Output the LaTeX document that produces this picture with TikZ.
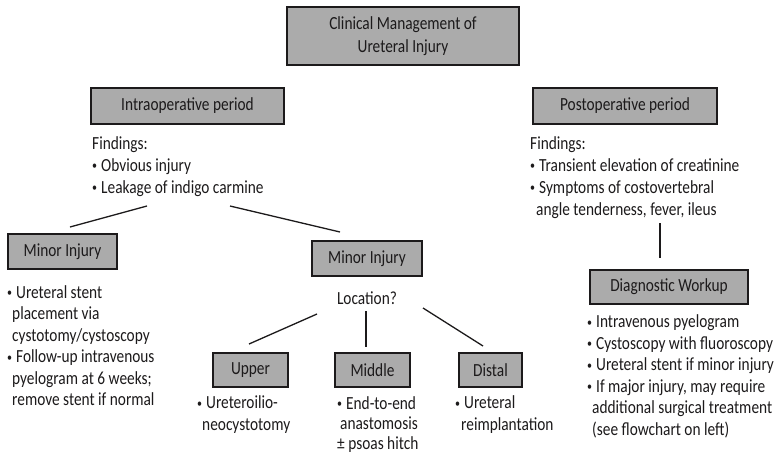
\documentclass[tikz,border=0pt]{standalone}
\usepackage{fontspec}
\setmainfont{Carlito}[FakeStretch=0.83]
\definecolor{boxfill}{HTML}{ABABAB}
\definecolor{ink}{HTML}{1C1A1B}
\newcommand{\fs}{\fontsize{18.5}{21.5}\selectfont}
\newcommand{\bul}{\raisebox{1.2pt}{\fontsize{12}{12}\selectfont •}\hspace{4pt}}
\begin{document}
\begin{tikzpicture}[x=1pt,y=-1pt,
  gbox/.style={draw=ink, line width=1.4pt, fill=boxfill, text=ink, font=\fs,
    inner sep=0pt, align=center},
  tblock/.style={anchor=base west, inner sep=0pt, align=left, text=ink, font=\fs},
  conn/.style={draw=ink, line width=1.3pt}]
\useasboundingbox (0,0) rectangle (775,453);

% boxes
\node[gbox, minimum width=232pt, minimum height=58pt, font=\fontsize{18.5}{23}\selectfont] (title) at (403,36)
  {Clinical Management of\\Ureteral Injury};
\node[gbox, minimum width=193pt, minimum height=36pt] (intra) at (187.5,106) {Intraoperative period};
\node[gbox, minimum width=184pt, minimum height=36pt] (post) at (625,106) {Postoperative period};
\node[gbox, minimum width=109pt, minimum height=35pt] (minorL) at (62.5,251.5) {Minor Injury};
\node[gbox, minimum width=110pt, minimum height=35pt] (minorM) at (367,258.5) {Minor Injury};
\node[gbox, minimum width=158pt, minimum height=34pt] (diag) at (669,287) {Diagnostic Workup};
\node[gbox, minimum width=75pt, minimum height=34pt] (upper) at (250.5,370) {Upper};
\node[gbox, minimum width=75pt, minimum height=34pt] (middle) at (372.5,370) {Middle};
\node[gbox, minimum width=63pt, minimum height=34pt] (distal) at (490.5,370) {Distal};

% text blocks (base anchor = baseline of the last line)
\node[tblock, font=\fontsize{18.5}{22}\selectfont] (intraF) at (92,193)
  {Findings:\\\bul Obvious injury\\\bul Leakage of indigo carmine};
\node[tblock, font=\fontsize{18.5}{22}\selectfont] (postF) at (530,215)
  {Findings:\\\bul Transient elevation of creatinine\\\bul Symptoms of costovertebral\\\hspace{6pt}angle tenderness, fever, ileus};
\node[tblock] (leftT) at (7,405.5)
  {\bul Ureteral stent\\\hspace{5pt}placement via\\\hspace{5pt}cystotomy/cystoscopy\\\bul Follow-up intravenous\\\hspace{5pt}pyelogram at 6 weeks;\\\hspace{5pt}remove stent if normal};
\node[tblock] (diagT) at (587,435)
  {\bul Intravenous pyelogram\\\bul Cystoscopy with fluoroscopy\\\bul Ureteral stent if minor injury\\\bul If major injury, may require\\\hspace{5pt}additional surgical treatment\\\hspace{5pt}(see flowchart on left)};
\node[tblock] (upperT) at (197,430)
  {\bul Ureteroilio-\\\hspace{5pt}neocystotomy};
\node[tblock, font=\fontsize{18.5}{20}\selectfont] (middleT) at (337,449)
  {\bul End-to-end\\\hspace{3pt}anastomosis\\± psoas hitch};
\node[tblock] (distalT) at (455,430)
  {\bul Ureteral\\\hspace{6pt}reimplantation};
\node[inner sep=0pt, text=ink, font=\fs, anchor=base] (loc) at (367,304) {Location?};

% connector end points
\coordinate (a1) at (147,206); \coordinate (a2) at (70,227);
\coordinate (b1) at (230,206); \coordinate (b2) at (340,232);
\coordinate (c1) at (660,223); \coordinate (c2) at (660,258);
\coordinate (d1) at (317,314); \coordinate (d2) at (249,344);
\coordinate (e1) at (366,311); \coordinate (e2) at (366,347);
\coordinate (f1) at (423,308); \coordinate (f2) at (483,346);

\draw[conn] (a1) -- (a2);
\draw[conn] (b1) -- (b2);
\draw[conn] (c1) -- (c2);
\draw[conn] (d1) -- (d2);
\draw[conn] (e1) -- (e2);
\draw[conn] (f1) -- (f2);
\end{tikzpicture}
\end{document}
